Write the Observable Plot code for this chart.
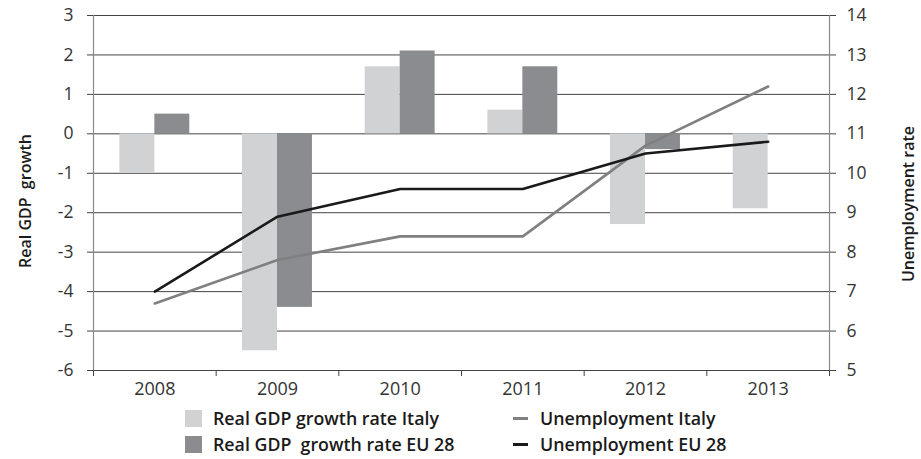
<!DOCTYPE html>
<html><head><meta charset="utf-8">
<script src="https://cdn.jsdelivr.net/npm/d3@7"></script>
<script src="https://cdn.jsdelivr.net/npm/@observablehq/plot@0.6"></script>
<style>
body{margin:0;background:#fff;font-family:"Open Sans",sans-serif;}
#wrap{position:relative;width:921px;height:459px;overflow:hidden;}
#wrap svg text{white-space:pre;}
.legend{position:absolute;top:405px;left:0;width:921px;height:54px;font-size:17.8px;font-weight:600;color:#1a1a1a;}
.item{position:absolute;display:flex;align-items:center;height:26px;white-space:pre;}
.sw{width:17px;height:17px;margin-right:11px;flex:none;}
.ln{width:15px;height:3px;margin-right:12px;flex:none;}
</style></head>
<body><div id="wrap"></div>
<script>
// ---- data ----
const years = [2008, 2009, 2010, 2011, 2012, 2013];
const gdpItaly = [-1.0, -5.5, 1.7, 0.6, -2.3, -1.9];
const gdpEU = [0.5, -4.4, 2.1, 1.7, -0.4, 0.0];
const unempItaly = [6.7, 7.8, 8.4, 8.4, 10.7, 12.2];
const unempEU = [7.0, 8.9, 9.6, 9.6, 10.5, 10.8];
const leftTicks = [-6, -5, -4, -3, -2, -1, 0, 1, 2, 3];
const rightTicks = [5, 6, 7, 8, 9, 10, 11, 12, 13, 14];
const seriesNames = ["Real GDP growth rate Italy", "Real GDP\u00a0 growth rate EU 28", "Unemployment Italy", "Unemployment EU 28"];
const leftTitle = "Real GDP\u00a0 growth";
const rightTitle = "Unemployment rate";

// right axis (5..14) shares pixels with left axis (-6..3)
const shift = rightTicks[0] - leftTicks[0];

const barsItaly = years.map((y, i) => ({year: y, value: gdpItaly[i]}));
const barsEU = years.map((y, i) => ({year: y, value: gdpEU[i]}));
const lineItaly = years.map((y, i) => ({year: y, u: unempItaly[i]}));
const lineEU = years.map((y, i) => ({year: y, u: unempEU[i]}));
const bounds = [years[0] - 0.5, ...years.map(y => y + 0.5)];

const C = {italyBar: "#d1d2d4", euBar: "#8b8c90", italyLine: "#808080", euLine: "#1a1a1a", grid: "#444", axis: "#8a8a8a", text: "#333"};
const bw = 0.285;

const chart = Plot.plot({
  width: 921, height: 402,
  marginLeft: 93, marginRight: 92, marginTop: 15, marginBottom: 32,
  style: {fontFamily: "Open Sans", fontSize: "17.5px", color: C.text, background: "#fff", overflow: "visible"},
  x: {domain: [bounds[0], bounds[bounds.length - 1]], axis: null},
  y: {domain: [leftTicks[0], leftTicks[leftTicks.length - 1]], axis: null},
  marks: [
    Plot.ruleY(leftTicks, {stroke: C.grid, strokeWidth: 1}),
    Plot.rectY(barsItaly, {x1: d => d.year - bw, x2: d => d.year, y1: d => 0, y2: d => d.value, fill: C.italyBar}),
    Plot.rectY(barsEU, {x1: d => d.year, x2: d => d.year + bw, y1: d => 0, y2: d => d.value, fill: C.euBar}),
    Plot.ruleX([bounds[0], bounds[bounds.length - 1]], {stroke: C.axis, strokeWidth: 1.2}),
    Plot.axisX(bounds, {tickSize: 6, tickFormat: () => "", stroke: C.grid, label: null}),
    Plot.axisX(years, {tickSize: 0, tickPadding: 12, tickFormat: "d", fill: C.text, fontSize: 18, label: null}),
    Plot.axisY(leftTicks, {anchor: "left", tickSize: 6, tickPadding: 14, stroke: C.grid, fill: C.text, label: null, tickFormat: d => String(d)}),
    Plot.axisY(rightTicks.map(t => t - shift), {anchor: "right", tickSize: 6, tickPadding: 11, stroke: C.grid, fill: C.text, label: null, tickFormat: d => String(d + shift)}),
    Plot.line(lineItaly, {x: "year", y: d => d.u - shift, stroke: C.italyLine, strokeWidth: 2.6}),
    Plot.line(lineEU, {x: "year", y: d => d.u - shift, stroke: C.euLine, strokeWidth: 2.6}),
    Plot.text([leftTitle], {frameAnchor: "left", dx: -68, dy: 8, rotate: -90, textAnchor: "middle", fontSize: 16, fontWeight: 600, fill: "#1a1a1a"}),
    Plot.text([rightTitle], {frameAnchor: "right", dx: 79, dy: 11, rotate: -90, textAnchor: "middle", fontSize: 16, fontWeight: 600, fill: "#1a1a1a"})
  ]
});

const wrap = document.getElementById("wrap");
wrap.appendChild(chart);

const legend = document.createElement("div");
legend.className = "legend";
const items = [
  {name: seriesNames[0], kind: "sw", color: C.italyBar, left: 185, top: 0},
  {name: seriesNames[1], kind: "sw", color: C.euBar, left: 185, top: 26},
  {name: seriesNames[2], kind: "ln", color: C.italyLine, left: 513, top: 0},
  {name: seriesNames[3], kind: "ln", color: C.euLine, left: 513, top: 26}
];
for (const it of items) {
  const d = document.createElement("div");
  d.className = "item";
  d.style.left = it.left + "px";
  d.style.top = it.top + "px";
  const s = document.createElement("span");
  s.className = it.kind;
  s.style.background = it.color;
  const t = document.createElement("span");
  t.textContent = it.name;
  d.appendChild(s); d.appendChild(t);
  legend.appendChild(d);
}
wrap.appendChild(legend);
</script>
</body></html>
